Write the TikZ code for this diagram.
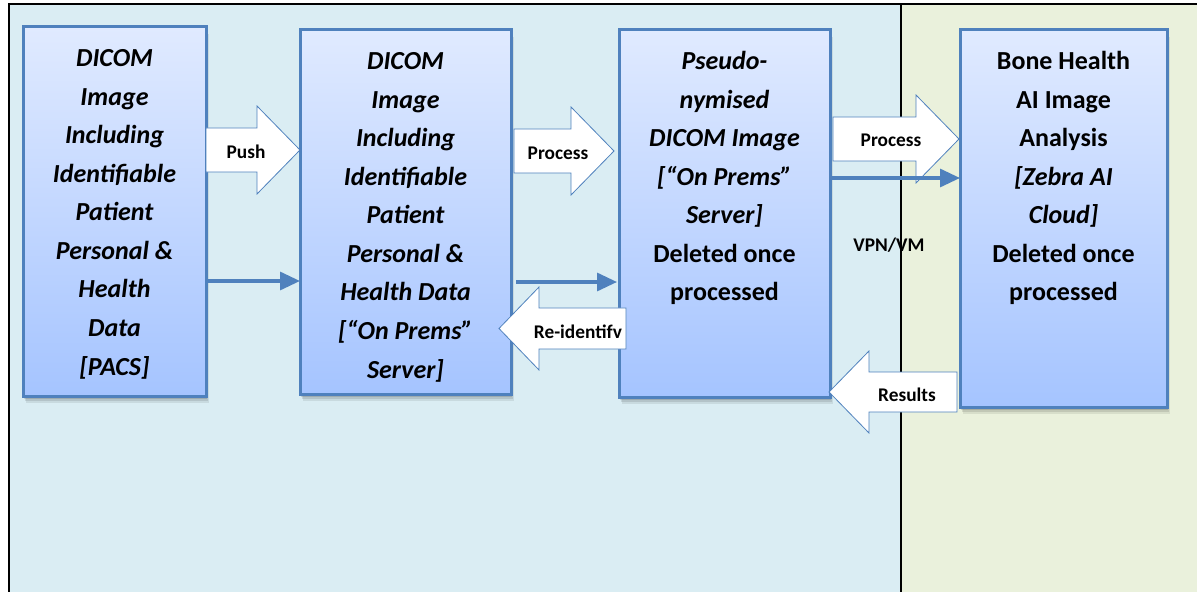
\documentclass[tikz,border=0pt]{standalone}
\usepackage{fontspec}
\setmainfont{Carlito}
\usetikzlibrary{arrows.meta,calc,shadows}

\definecolor{boxline}{RGB}{79,129,189}
\definecolor{boxtop}{RGB}{224,234,255}
\definecolor{boxbot}{RGB}{165,196,255}
\definecolor{zoneblue}{RGB}{218,237,243}
\definecolor{zonegreen}{RGB}{234,241,220}

% one drawing unit = one pixel of the layout grid
\newcommand\px[1]{#1*0.75pt}

\tikzset{
  ba shaft/.store in=\bashaft, ba head/.store in=\bahead, ba len/.store in=\balen,
  ba shaft=16.5pt, ba head=33pt, ba len=32.25pt,
  stagebox/.style={rectangle, draw=boxline, line width=2.25pt, outer sep=0pt,
    top color=boxtop, bottom color=boxbot, anchor=north west,
    drop shadow={shadow xshift=0.8pt, shadow yshift=-2.2pt, opacity=0.12, fill=black},
    drop shadow={shadow xshift=1.5pt, shadow yshift=-3.6pt, opacity=0.10, fill=black},
    drop shadow={shadow xshift=2.2pt, shadow yshift=-5pt, opacity=0.08, fill=black}},
  boxtext/.style={anchor=north, inner sep=0pt, align=center,
    font=\fontsize{19.5}{28.9}\selectfont\bfseries},
  boxtextit/.style={boxtext, font=\fontsize{19.5}{28.9}\selectfont\bfseries\itshape},
  lbl/.style={anchor=base, inner sep=0pt, font=\fontsize{14.5}{17}\selectfont\bfseries},
  flow/.style={draw=boxline, line width=2.4pt,
    -{Triangle[length=15pt,width=13.5pt]}},
  blockarrow/.style={draw=boxline, fill=white, line width=0.6pt, line join=miter,
    to path={let \p1=(\tikztostart), \p2=(\tikztotarget),
      \n1={(\x2>\x1) ? 1 : -1} in
      (\x1,\y1+\bashaft) -- (\x2-\n1*\balen,\y1+\bashaft)
      -- (\x2-\n1*\balen,\y1+\bahead) -- (\x2,\y2)
      -- (\x2-\n1*\balen,\y1-\bahead) -- (\x2-\n1*\balen,\y1-\bashaft)
      -- (\x1,\y1-\bashaft) -- cycle}},
}

\begin{document}
\begin{tikzpicture}[x=0.75pt,y=-0.75pt]
\path[use as bounding box] (0,0) rectangle (1197,592);

% hospital zone and cloud zone
\fill[zoneblue]  (8.5,4) rectangle (901,592);
\fill[zonegreen] (901,4) rectangle (1197,592);
\draw[line width=1.5pt] (8.5,592) -- (8.5,4) -- (1197,4);
\draw[line width=1.5pt] (901,4) -- (901,592);

% stages
\node[stagebox, minimum width=\px{183}, minimum height=\px{369}] (b1) at (23,27) {};
\node[stagebox, minimum width=\px{211}, minimum height=\px{364}] (b2) at (300,30) {};
\node[stagebox, minimum width=\px{211}, minimum height=\px{367}] (b3) at (619,30) {};
\node[stagebox, minimum width=\px{207}, minimum height=\px{377}] (b4) at (960,30) {};

\node[boxtextit] (t1) at ($(b1.north)+(0,12.5)$) {\strut DICOM\\Image\\Including\\Identifiable\\Patient\\Personal \&\\Health\\Data\\{}[PACS]};
\node[boxtextit] (t2) at ($(b2.north)+(0,12.5)$) {\strut DICOM\\Image\\Including\\Identifiable\\Patient\\Personal \&\\Health Data\\{}[“On Prems”\\Server]};
\node[boxtext] (t3) at ($(b3.north)+(0,12.5)$) {\strut\textit{Pseudo-}\\\textit{nymised}\\\textit{DICOM Image}\\\textit{[“On Prems”}\\\textit{Server]}\\Deleted once\\processed};
\node[boxtext] (t4) at ($(b4.north)+(0,12.5)$) {\strut Bone Health\\AI Image\\Analysis\\\textit{[Zebra AI}\\\textit{Cloud]}\\Deleted once\\processed};

\node[lbl] (vpn) at (889,251.3) {VPN/VM};

% block arrows
\draw[blockarrow] (b1.east |- 0,150) to (b2.west |- 0,150);
\draw[blockarrow] ($(b2.east |- 0,151)+(3,0)$) to ($(b3.west |- 0,151)+(-5,0)$);
\draw[blockarrow, ba shaft=15.4pt, ba head=31.1pt, ba len=30pt]
  ($(b3.west |- 0,328.5)+(7,0)$) to ($(b2.east |- 0,328.5)+(-12,0)$);
\draw[blockarrow] ($(b3.east |- 0,139)+(3,0)$) to ($(b4.west |- 0,139)+(-1,0)$);
\draw[blockarrow, ba shaft=15pt, ba head=30.75pt, ba len=30pt]
  ($(b4.west |- 0,392)+(-3,0)$) to ($(b3.east |- 0,392)+(-1,0)$);

\node[lbl] (lpush) at (246,158.3) {Push};
\node[lbl] (lproc1) at (558,159.3) {Process};
\node[lbl] (lreid) at (578,338.3) {Re-identifv};
\node[lbl] (lproc2) at (891,146.3) {Process};
\node[lbl] (lres) at (907,401.3) {Results};

% data flow lines
\draw[flow] (b1.east |- 0,281) -- (b2.west |- 0,281);
\draw[flow] ($(b2.east |- 0,282)+(5,0)$) -- ($(b3.west |- 0,282)+(-2,0)$);
\draw[flow] ($(b3.east |- 0,178)+(2,0)$) -- (b4.west |- 0,178);
\end{tikzpicture}
\end{document}
